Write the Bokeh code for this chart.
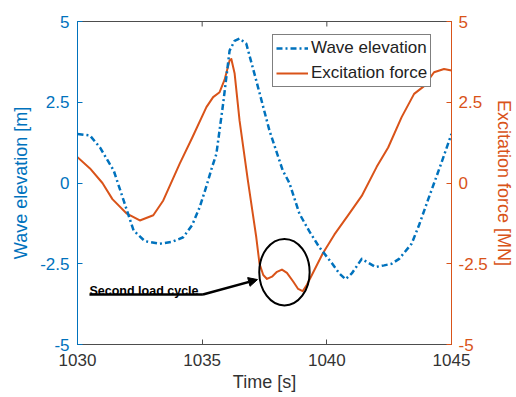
import math
from bokeh.plotting import figure
from bokeh.models import (Range1d, LinearAxis, FixedTicker, Legend, LegendItem,
                          Label, Arrow, NormalHead)
from bokeh.embed import file_html
from bokeh.resources import INLINE

# ---- data ----
wave_t = [1030.0, 1030.5, 1030.9, 1031.45, 1031.85, 1032.25, 1032.7, 1033.3, 1033.8,
          1034.24, 1034.6, 1034.9, 1035.17, 1035.4, 1035.57, 1035.84, 1036.1, 1036.3,
          1036.5, 1036.77, 1037.17, 1037.7, 1038.23, 1038.5, 1038.9, 1039.3, 1039.7,
          1040.22, 1040.5, 1040.75, 1041.0, 1041.4, 1041.95, 1042.3, 1042.6, 1042.9,
          1043.4, 1043.7, 1044.05, 1044.58, 1045.0]
wave_m = [1.52, 1.47, 1.1, 0.39, -0.54, -1.47, -1.8, -1.88, -1.82,
          -1.68, -1.3, -0.75, -0.1, 0.5, 0.9, 2.45, 4.1, 4.4,
          4.47, 4.31, 3.17, 1.62, 0.39, 0.0, -0.95, -1.5, -1.99,
          -2.5, -2.8, -2.98, -2.8, -2.35, -2.6, -2.55, -2.5, -2.35,
          -1.88, -1.3, -0.54, 0.59, 1.52]

force_t = [1030.0, 1030.5, 1031.0, 1031.4, 1031.98, 1032.5, 1033.04, 1033.44, 1034.1,
           1034.6, 1035.17, 1035.44, 1035.7, 1035.9, 1036.1, 1036.17, 1036.3, 1036.5,
           1036.83, 1037.03, 1037.17, 1037.3, 1037.45, 1037.6, 1037.8, 1038.0, 1038.2,
           1038.4, 1038.65, 1038.85, 1039.03, 1039.2, 1039.4,
           1039.83, 1040.3, 1040.9, 1041.4, 1042.0, 1042.46, 1043.0, 1043.5, 1043.9,
           1044.3, 1044.7, 1045.0]
force_mn = [0.8, 0.45, 0.0, -0.5, -0.95, -1.16, -1.0, -0.54, 0.6,
            1.4, 2.35, 2.66, 2.81, 3.2, 3.79, 3.84, 3.4, 1.93,
            0.1, -0.95, -1.68, -2.5, -2.85, -2.97, -2.9, -2.75, -2.68,
            -2.78, -3.05, -3.28, -3.35, -3.15, -2.85,
            -2.19, -1.6, -0.95, -0.4, 0.5, 1.1, 2.04, 2.76, 3.0,
            3.43, 3.53, 3.48]

x_ticks = [1030, 1035, 1040, 1045]
y_ticks = [-5, -2.5, 0, 2.5, 5]
y_tick_labels = ["-5", "-2.5", "0", "2.5", "5"]

series_names = ["Wave elevation", "Excitation force"]
annotation_text = "Second load cycle"
# annotation geometry (data units)
circle_x, circle_y, circle_w, circle_h = 1038.3, -2.76, 2.02, 2.06
text_x, text_y = 1030.48, -3.33
under_x0, under_x1, under_y = 1030.48, 1035.03, -3.45
arrow_x1, arrow_y1 = 1037.22, -2.99

BLUE = "#0072BD"
ORANGE = "#D95319"
GRAY = "#4d4d4d"
FONT = "Liberation Sans"
Y_MIN, Y_MAX = -5, 5

p = figure(width=516, height=397, x_range=Range1d(1030, 1045), y_range=Range1d(Y_MIN, Y_MAX),
           output_backend="svg", toolbar_location=None,
           min_border_left=77, min_border_right=63, min_border_top=21, min_border_bottom=53)
p.extra_y_ranges = {"force": Range1d(Y_MIN, Y_MAX)}
p.grid.visible = False
p.outline_line_color = GRAY
p.outline_line_width = 1
p.background_fill_color = "white"
p.border_fill_color = "white"

overrides = {float(v): s for v, s in zip(y_ticks, y_tick_labels)}

def style_axis(ax, color, label_color=None):
    ax.axis_line_color = color
    ax.axis_line_width = 1
    ax.major_tick_line_color = color
    ax.major_tick_in = 5
    ax.major_tick_out = 0
    ax.minor_tick_line_color = None
    ax.major_label_text_color = label_color or color
    ax.major_label_text_font = FONT
    ax.major_label_text_font_size = "17px"
    ax.axis_label_text_font = FONT
    ax.axis_label_text_font_size = "18px"
    ax.axis_label_text_font_style = "normal"
    ax.axis_label_text_color = label_color or color

# bottom axis
xa = p.xaxis[0]
xa.ticker = FixedTicker(ticks=x_ticks)
style_axis(xa, GRAY, "#333333")
xa.axis_label = "Time [s]"
xa.major_label_standoff = 9
xa.axis_label_standoff = 3

# left axis
ya = p.yaxis[0]
ya.ticker = FixedTicker(ticks=y_ticks)
ya.major_label_overrides = overrides
style_axis(ya, BLUE)
ya.axis_label = "Wave elevation [m]"
ya.major_label_standoff = 8
ya.axis_label_standoff = 6

# right axis
ra = LinearAxis(y_range_name="force", ticker=FixedTicker(ticks=y_ticks))
ra.major_label_overrides = overrides
style_axis(ra, ORANGE)
ra.axis_label = "Excitation force [MN]"
ra.major_label_standoff = 7
ra.axis_label_standoff = 3
p.add_layout(ra, "right")

# inward tick marks on the top border (clipped to the frame)
p.scatter(x=x_ticks, y=[Y_MAX] * len(x_ticks), marker="dash", angle=math.pi / 2,
          size=10, line_color=GRAY, line_width=1)

r_force = p.line(force_t, force_mn, y_range_name="force", color=ORANGE, line_width=2,
                 line_join="round")
r_wave = p.line(wave_t, wave_m, color=BLUE, line_width=2.5, line_dash="6 3 2 3",
                line_join="round")

# annotation
p.ellipse(x=[circle_x], y=[circle_y], width=[circle_w], height=[circle_h],
          fill_color=None, line_color="black", line_width=2)
p.line([under_x0, under_x1], [under_y, under_y], color="black", line_width=2.5)
p.add_layout(Arrow(end=NormalHead(size=9, fill_color="black", line_color="black"),
                   x_start=under_x1, y_start=under_y, x_end=arrow_x1, y_end=arrow_y1,
                   line_color="black", line_width=2.5))
p.add_layout(Label(x=text_x, y=text_y, text=annotation_text, text_font=FONT,
                   text_font_style="bold", text_font_size="12.5px",
                   text_baseline="alphabetic", text_color="black"))

legend = Legend(items=[LegendItem(label=series_names[0], renderers=[r_wave]),
                       LegendItem(label=series_names[1], renderers=[r_force])],
                location=(195, 257), orientation="vertical")
legend.label_text_font = FONT
legend.label_text_font_size = "17px"
legend.label_text_color = "#222222"
legend.border_line_color = "black"
legend.border_line_width = 1
legend.background_fill_alpha = 1
legend.padding = 3
legend.spacing = 5
legend.margin = 0
legend.glyph_width = 32
legend.glyph_height = 20
legend.label_height = 20
legend.label_standoff = 3
p.add_layout(legend)

open("out.html", "w").write(file_html(p, INLINE))
